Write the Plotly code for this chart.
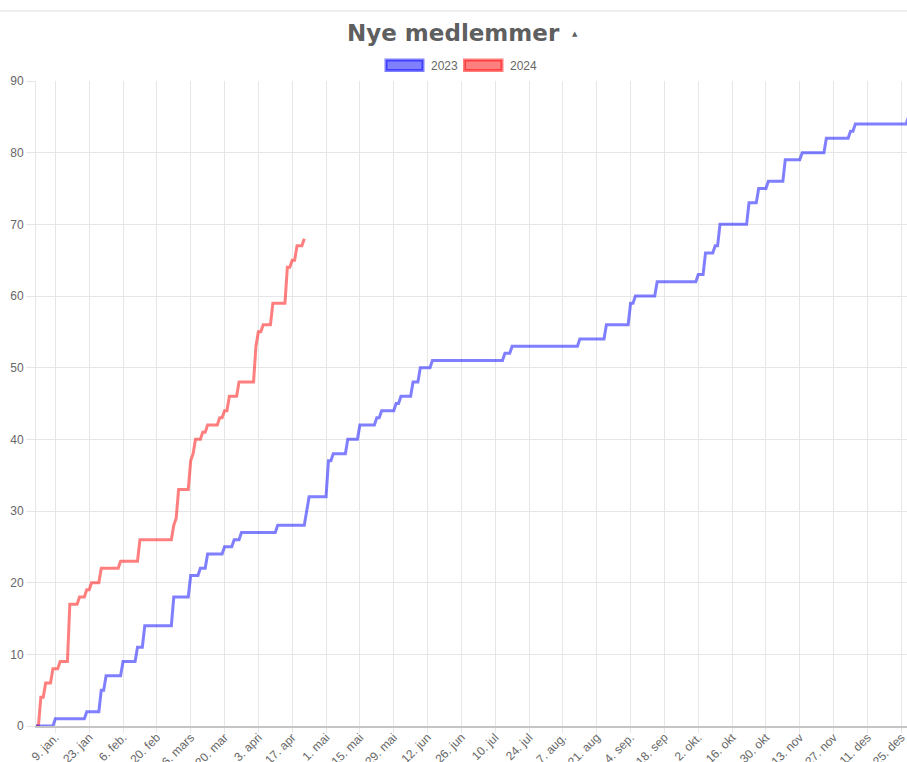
import pandas as pd
import plotly.graph_objects as go

# ---------------- data ----------------
title_text = "Nye medlemmer"
series_names = ["2023", "2024"]

# cumulative number of new members, given at the days where the count changes
dates_2023 = [
    "2023-01-01", "2023-01-09", "2023-01-22", "2023-01-28", "2023-01-30",
    "2023-02-06", "2023-02-12", "2023-02-15", "2023-02-27", "2023-03-06",
    "2023-03-10", "2023-03-13", "2023-03-20", "2023-03-24", "2023-03-27",
    "2023-04-11", "2023-04-23", "2023-04-24", "2023-05-02", "2023-05-04",
    "2023-05-10", "2023-05-15", "2023-05-22", "2023-05-24", "2023-05-30",
    "2023-06-01", "2023-06-06", "2023-06-09", "2023-06-14", "2023-07-14",
    "2023-07-17", "2023-08-14", "2023-08-25", "2023-09-04", "2023-09-06",
    "2023-09-15", "2023-10-02", "2023-10-05", "2023-10-09", "2023-10-11",
    "2023-10-23", "2023-10-27", "2023-10-31", "2023-11-07", "2023-11-14",
    "2023-11-24", "2023-12-04", "2023-12-06", "2023-12-28",
]
members_2023 = [
    0, 1, 2, 5, 7,
    9, 11, 14, 18, 21,
    22, 24, 25, 26, 27,
    28, 30, 32, 37, 38,
    40, 42, 43, 44, 45,
    46, 48, 50, 51, 52,
    53, 54, 56, 59, 60,
    62, 63, 66, 67, 70,
    73, 75, 76, 79, 80,
    82, 83, 84, 85,
]

dates_2024 = [
    "2024-01-01", "2024-01-03", "2024-01-05", "2024-01-08", "2024-01-11",
    "2024-01-15", "2024-01-19", "2024-01-22", "2024-01-24", "2024-01-28",
    "2024-02-05", "2024-02-13", "2024-02-27", "2024-02-28", "2024-02-29",
    "2024-03-05", "2024-03-06", "2024-03-07", "2024-03-10", "2024-03-12",
    "2024-03-17", "2024-03-19", "2024-03-21", "2024-03-25", "2024-04-01",
    "2024-04-02", "2024-04-04", "2024-04-08", "2024-04-14", "2024-04-16",
    "2024-04-18", "2024-04-21",
]
members_2024 = [
    0, 4, 6, 8, 9,
    17, 18, 19, 20, 22,
    23, 26, 28, 29, 33,
    37, 38, 40, 41, 42,
    43, 44, 46, 48, 53,
    55, 56, 59, 64, 65,
    67, 68,
]

tick_dates = pd.date_range("2023-01-09", periods=26, freq="14D")
tick_labels = [
    "9. jan.", "23. jan", "6. feb.", "20. feb", "6. mars", "20. mar",
    "3. apri", "17. apr", "1. mai", "15. mai", "29. mai", "12. jun",
    "26. jun", "10. jul", "24. jul", "7. aug.", "21. aug", "4. sep.",
    "18. sep", "2. okt.", "16. okt", "30. okt", "13. nov", "27. nov",
    "11. des", "25. des",
]
y_ticks = list(range(0, 91, 10))


def daily(dates, values):
    s = pd.Series(values, index=pd.to_datetime(dates))
    idx = pd.date_range(s.index[0], s.index[-1], freq="D")
    return s.reindex(idx).ffill()


s23 = daily(dates_2023, members_2023)
s24 = daily(dates_2024, members_2024)
# align 2024 on the day-of-year axis of 2023
x24 = s24.index - pd.Timedelta(days=365)

# ---------------- layout helpers ----------------
W, H = 907, 762
PL, PR, PT, PB = 36, 907, 81, 726


def px(x):
    return (x - PL) / (PR - PL)


def py(y):
    return (PB - y) / (PB - PT)


GRID = "#e6e6e6"
TXT = "#666666"
BLUE = "rgba(0,0,255,0.5)"
RED = "rgba(255,0,0,0.5)"
FONT = "Liberation Sans, Arial, sans-serif"

fig = go.Figure()
fig.add_trace(go.Scatter(x=x24, y=s24.values, mode="lines", name=series_names[1],
                         line=dict(color=RED, width=3), showlegend=False))
fig.add_trace(go.Scatter(x=s23.index, y=s23.values, mode="lines", name=series_names[0],
                         line=dict(color=BLUE, width=3), showlegend=False))

x_start = pd.Timestamp("2023-01-01")
x_end = x_start + pd.Timedelta(days=(PR - PL) / 2.417)

fig.update_layout(
    width=W, height=H,
    margin=dict(l=PL, r=W - PR, t=PT, b=H - PB, pad=0, autoexpand=False),
    paper_bgcolor="white", plot_bgcolor="white",
    font=dict(family=FONT, size=12, color=TXT),
    xaxis=dict(
        range=[x_start, x_end], tickmode="array", automargin=False,
        tickvals=list(tick_dates), ticktext=tick_labels, tickangle=-45,
        showgrid=True, gridcolor=GRID, gridwidth=1,
        ticks="outside", ticklen=5, tickcolor=GRID, ticklabelstandoff=-7,
        ticklabeloverflow="allow",
        showline=True, linecolor="#c4c4c4", linewidth=1.5,
        tickfont=dict(size=12, color=TXT), zeroline=False,
    ),
    yaxis=dict(
        range=[0, 90], tickmode="array", tickvals=y_ticks, automargin=False,
        showgrid=True, gridcolor=GRID, gridwidth=1,
        ticks="outside", ticklen=9, tickcolor=GRID,
        showline=True, linecolor=GRID, linewidth=1,
        tickfont=dict(size=12, color=TXT), zeroline=False,
    ),
)

shapes = [
    # top rule
    dict(type="line", xref="paper", yref="paper", x0=px(0), x1=px(W), y0=py(11), y1=py(11),
         line=dict(color="#eeeeee", width=2)),
    # legend boxes
    dict(type="rect", xref="paper", yref="paper", x0=px(386), x1=px(423), y0=py(70.5), y1=py(60),
         fillcolor=BLUE, line=dict(color=BLUE, width=3)),
    dict(type="rect", xref="paper", yref="paper", x0=px(464.5), x1=px(502), y0=py(70.5), y1=py(60),
         fillcolor=RED, line=dict(color=RED, width=3)),
]
fig.update_layout(shapes=shapes)

annotations = [
    dict(text="<b>" + title_text + "</b>", xref="paper", yref="paper", x=px(453.5), y=py(33),
         xanchor="center", yanchor="middle", showarrow=False,
         font=dict(family="DejaVu Sans, Verdana, sans-serif", size=23, color="#5f5f5f")),
    dict(text="▲", xref="paper", yref="paper", x=px(575), y=py(34),
         xanchor="center", yanchor="middle", showarrow=False,
         font=dict(family="DejaVu Sans", size=7, color="#5f5f5f")),
    dict(text=series_names[0], xref="paper", yref="paper", x=px(428.5), y=py(65.5),
         xanchor="left", yanchor="middle", showarrow=False, font=dict(size=12, color=TXT)),
    dict(text=series_names[1], xref="paper", yref="paper", x=px(507.5), y=py(65.5),
         xanchor="left", yanchor="middle", showarrow=False, font=dict(size=12, color=TXT)),
]
fig.update_layout(annotations=annotations)

fig.write_html(
    "out.html",
    config={"displayModeBar": False},
    post_script="document.body.style.margin='0';document.body.style.overflow='hidden';",
)
